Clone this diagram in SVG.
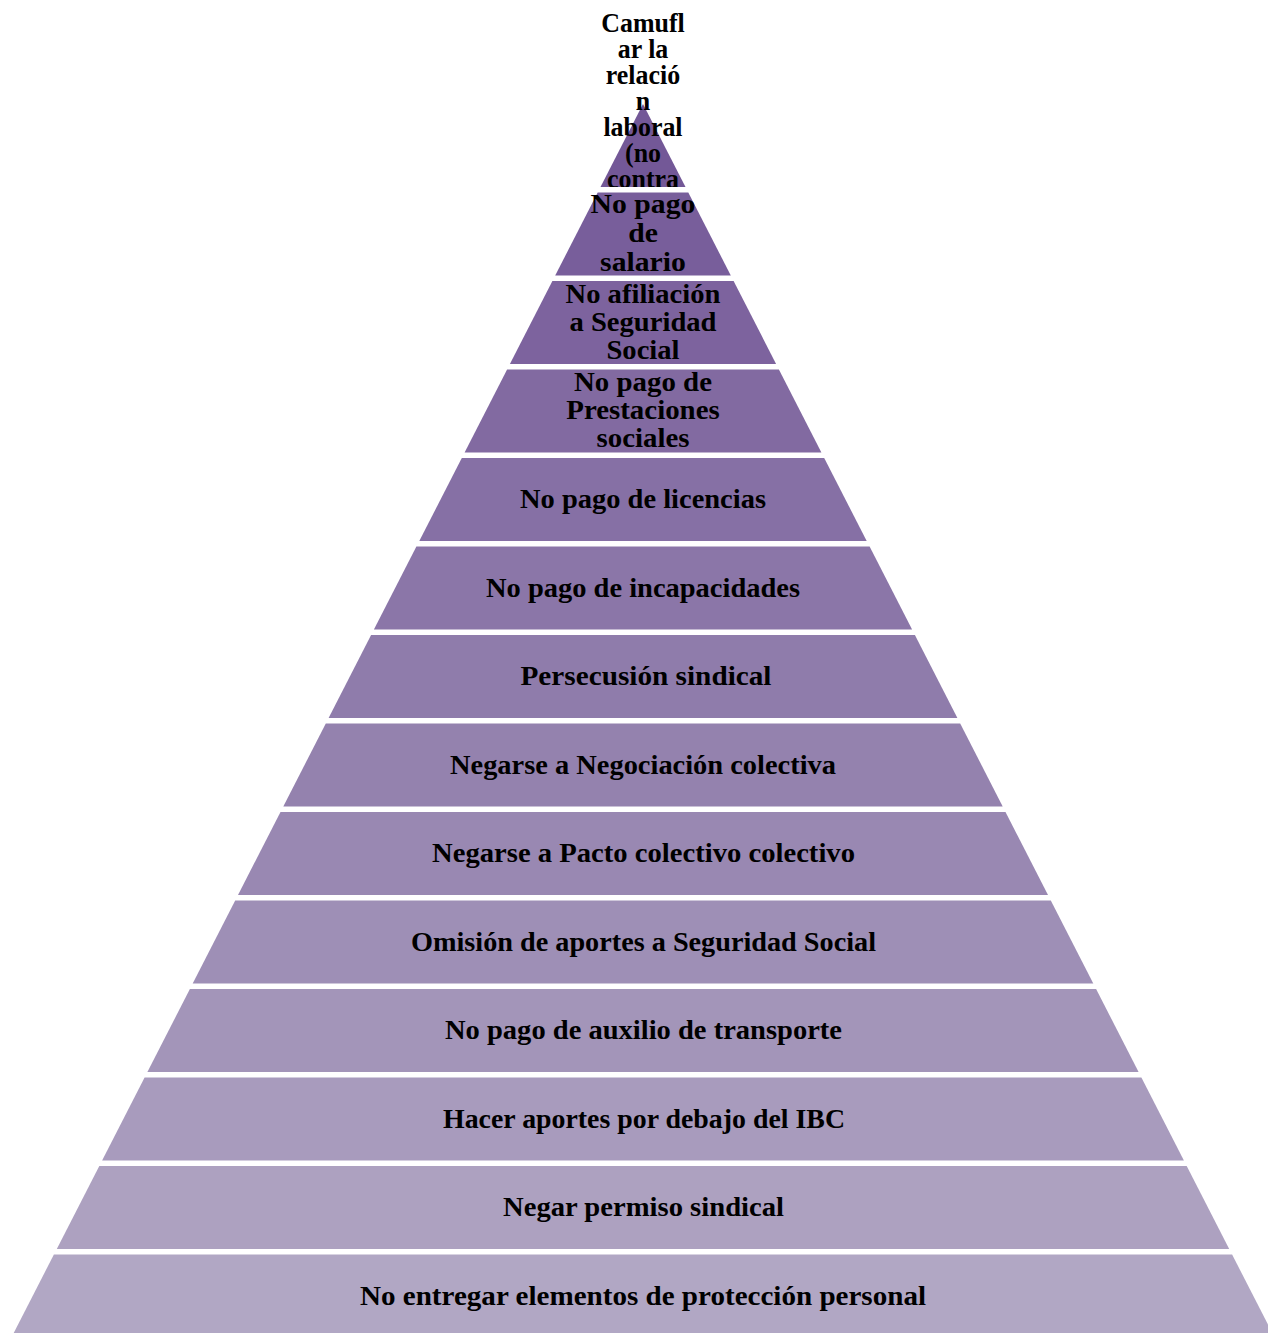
<svg xmlns="http://www.w3.org/2000/svg" width="1268" height="1333" viewBox="0 0 1268 1333">
<style>
.t{font-family:"Liberation Serif","DejaVu Serif",serif;font-weight:bold;font-size:27px;fill:#000;text-anchor:middle}
</style>
<defs>
<clipPath id="c1"><rect x="0" y="0" width="1268" height="187"/></clipPath>
</defs>
<rect width="1268" height="1333" fill="#fff"/>
<g id="band1">
<polygon points="643,104 685.5,187 600.5,187" fill="#735897"/>
<g clip-path="url(#c1)">
<text class="t" transform="translate(643,0) scale(0.96,1) translate(-643,0)"><tspan x="643" y="32">Camufl</tspan><tspan x="643" y="58">ar la</tspan><tspan x="643" y="84">relació</tspan><tspan x="643" y="110">n</tspan><tspan x="643" y="136">laboral</tspan><tspan x="643" y="162">(no</tspan><tspan x="643" y="188">contra</tspan></text>
</g>
</g>
<g id="band2">
<polygon points="597.7,192.5 688.3,192.5 730.8,275.5 555.2,275.5" fill="#785e9b"/>
<text class="t" transform="translate(643,0) scale(1.1,1) translate(-643,0)"><tspan x="643" y="213">No pago</tspan><tspan x="643" y="242">de</tspan><tspan x="643" y="271">salario</tspan></text>
</g>
<g id="band3">
<polygon points="552.4,281 733.6,281 776.1,364 509.9,364" fill="#7d639e"/>
<text class="t" transform="translate(643,0) scale(1.06,1) translate(-643,0)"><tspan x="643" y="303">No afiliación</tspan><tspan x="643" y="331">a Seguridad</tspan><tspan x="643" y="359">Social</tspan></text>
</g>
<g id="band4">
<polygon points="507.1,369.5 778.9,369.5 821.4,452.5 464.6,452.5" fill="#826aa1"/>
<text class="t" transform="translate(643,0) scale(1.07,1) translate(-643,0)"><tspan x="643" y="391">No pago de</tspan><tspan x="643" y="419">Prestaciones</tspan><tspan x="643" y="447">sociales</tspan></text>
</g>
<g id="band5">
<polygon points="461.8,458 824.2,458 866.7,541 419.3,541" fill="#8670a5"/>
<text class="t" x="643" y="508" textLength="246" lengthAdjust="spacingAndGlyphs">No pago de licencias</text>
</g>
<g id="band6">
<polygon points="416.4,546.5 869.6,546.5 912.1,629.5 373.9,629.5" fill="#8b76a8"/>
<text class="t" x="643" y="596.5" textLength="314" lengthAdjust="spacingAndGlyphs">No pago de incapacidades</text>
</g>
<g id="band7">
<polygon points="371.1,635 914.9,635 957.4,718 328.6,718" fill="#8f7cab"/>
<text class="t" x="646" y="685" textLength="251" lengthAdjust="spacingAndGlyphs">Persecusión sindical</text>
</g>
<g id="band8">
<polygon points="325.8,723.5 960.2,723.5 1002.7,806.5 283.3,806.5" fill="#9482ae"/>
<text class="t" x="643" y="773.5" textLength="386" lengthAdjust="spacingAndGlyphs">Negarse a Negociación colectiva</text>
</g>
<g id="band9">
<polygon points="280.5,812 1005.5,812 1048,895 238,895" fill="#9988b2"/>
<text class="t" x="643.5" y="862" textLength="423" lengthAdjust="spacingAndGlyphs">Negarse a Pacto colectivo colectivo</text>
</g>
<g id="band10">
<polygon points="235.2,900.5 1050.8,900.5 1093.3,983.5 192.7,983.5" fill="#9e8fb6"/>
<text class="t" x="643.5" y="950.5" textLength="465" lengthAdjust="spacingAndGlyphs">Omisión de aportes a Seguridad Social</text>
</g>
<g id="band11">
<polygon points="189.9,989 1096.1,989 1138.6,1072 147.4,1072" fill="#a395b9"/>
<text class="t" x="643.5" y="1039" textLength="397" lengthAdjust="spacingAndGlyphs">No pago de auxilio de transporte</text>
</g>
<g id="band12">
<polygon points="144.6,1077.5 1141.4,1077.5 1183.9,1160.5 102.1,1160.5" fill="#a89bbd"/>
<text class="t" x="644" y="1127.5" textLength="402" lengthAdjust="spacingAndGlyphs">Hacer aportes por debajo del IBC</text>
</g>
<g id="band13">
<polygon points="99.3,1166 1186.7,1166 1229.2,1249 56.8,1249" fill="#ada1c0"/>
<text class="t" x="643.5" y="1216" textLength="281" lengthAdjust="spacingAndGlyphs">Negar permiso sindical</text>
</g>
<g id="band14">
<polygon points="53.9,1254.5 1232.1,1254.5 1274.6,1337.5 11.4,1337.5" fill="#b1a7c4"/>
<text class="t" x="643" y="1304.5" textLength="566" lengthAdjust="spacingAndGlyphs">No entregar elementos de protección personal</text>
</g>
<g id="connectors"/>
</svg>
